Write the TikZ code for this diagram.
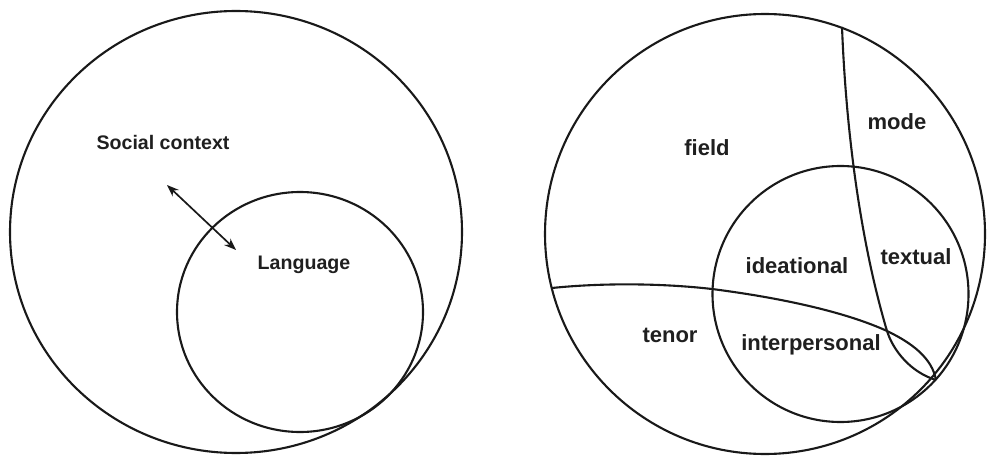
\documentclass[tikz,border=0pt]{standalone}
\usepackage{fontspec}
\setmainfont{Liberation Sans}
\usetikzlibrary{arrows.meta}
\begin{document}
\begin{tikzpicture}[x=1pt,y=-1pt,
  ring/.style={draw=black!90, line width=2.1pt},
  divider/.style={draw=black!90, line width=2.1pt, line join=round},
  lbl/.style={font=\bfseries\fontsize{19.6}{22}\selectfont, inner sep=0pt, text=black!88},
  rlbl/.style={font=\bfseries\fontsize{22}{24}\selectfont, inner sep=0pt, text=black!88},
  arr/.style={draw=black!90, line width=1.7pt, {Stealth[length=12pt,width=9pt,inset=4pt]}-{Stealth[length=12pt,width=9pt,inset=4pt]}}
]
\useasboundingbox (0,0) rectangle (987,457);
\fill[white] (0,0) rectangle (987,457);

% ---------- left panel ----------
\draw[ring] (236,232) ellipse [x radius=226, y radius=221];
\draw[ring] (300,312) ellipse [x radius=123, y radius=120];
\node[lbl] (social) at (163,142) {Social context};
\node[lbl] (lang) at (304,265) {Language};
\coordinate (a1) at (167,185);
\coordinate (a2) at (236,250);
\draw[arr] (a1) -- (a2);

% ---------- right panel ----------
\draw[ring] (765,234) circle [radius=220];
\draw[ring] (840.5,294) circle [radius=128];

\coordinate (mtop) at (842,27);
\coordinate (tleft) at (552,288);
\coordinate (cross) at (887,331);
\coordinate (meet) at (936,380);
\coordinate (sleft) at (712,289);

% mode boundary (near vertical), continuing along lower-left side of the lens
\draw[divider] (mtop) .. controls (846,130) and (860,240) .. (cross)
  .. controls (893,350) and (910,372) .. (meet);
% tenor boundary (near horizontal), continuing along upper-right side of the lens
\draw[divider] (tleft) .. controls (600,283) and (660,283) .. (sleft)
  .. controls (790,299) and (850,314) .. (cross)
  .. controls (912,343) and (932,358) .. (meet);

\node[rlbl] (field) at (707,148) {field};
\node[rlbl] (mode) at (897,122) {mode};
\node[rlbl] (ideational) at (797,266) {ideational};
\node[rlbl] (textual) at (916,257) {textual};
\node[rlbl] (tenor) at (670,335) {tenor};
\node[rlbl] (interpersonal) at (811,345) {interpersonal};
\end{tikzpicture}
\end{document}
